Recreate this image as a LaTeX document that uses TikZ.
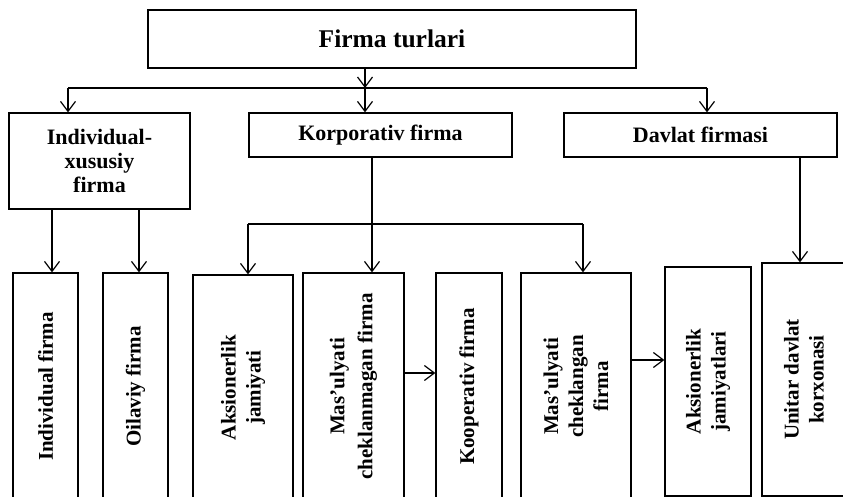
\documentclass[tikz,border=0pt]{standalone}
\usepackage{fontspec}
\setmainfont{Liberation Serif}
\usetikzlibrary{arrows.meta}
\tikzset{
  box/.style={draw, line width=1.2pt, inner sep=0pt, align=center,
    font=\bfseries\fontsize{22}{24}\selectfont},
  vbox/.style={box, rotate=90, font=\bfseries\fontsize{21}{25}\selectfont},
  ln/.style={line width=1.2pt},
  arr/.style={line width=1.2pt, -{Straight Barb[length=10pt,width=15pt,line width=1.2pt]}}
}
\begin{document}
\begin{tikzpicture}[x=1pt,y=-1pt]
\useasboundingbox (0,0) rectangle (843,497);
%
\node[box, minimum width=488pt, minimum height=58pt,
  font=\bfseries\fontsize{25.5}{28}\selectfont] (turlar) at (392,39) {Firma turlari};
%
\node[box, minimum width=181pt, minimum height=96pt] (indiv) at (99.5,161) {Individual-\\xususiy\\firma};
\node[box, minimum width=263pt, minimum height=44pt] (korp) at (380.5,135) {Korporativ firma};
\node[box, minimum width=273pt, minimum height=44pt] (davlat) at (700.5,135) {Davlat firmasi};
%
\node[vbox, minimum width=227pt, minimum height=65pt] (indfirma) at (45.5,386.5) {Individual firma};
\node[vbox, minimum width=227pt, minimum height=65pt] (oila) at (135.5,386.5) {Oilaviy firma};
\node[vbox, minimum width=225pt, minimum height=100pt] (aksjam) at (243,387.5) {Aksionerlik\\jamiyati};
\node[vbox, minimum width=227pt, minimum height=101pt] (cheklanmagan) at (353.5,386.5) {Mas’ulyati\\[3pt]cheklanmagan firma};
\node[vbox, minimum width=227pt, minimum height=66pt] (koop) at (469,386.5) {Kooperativ firma};
\node[vbox, minimum width=227pt, minimum height=110pt] (cheklangan) at (576,386.5) {Mas’ulyati\\cheklangan\\firma};
\node[vbox, minimum width=229pt, minimum height=86pt] (aksjamlar) at (708,381.5) {Aksionerlik\\jamiyatlari};
\node[vbox, minimum width=233pt, minimum height=84pt] (unitar) at (804,379.5) {Unitar davlat\\korxonasi};
%
\coordinate (busL) at (68,88);
\coordinate (busM) at (365,88);
\coordinate (busR) at (707,88);
\coordinate (kL) at (248,224);
\coordinate (kM) at (372,224);
\coordinate (kR) at (583,224);
\coordinate (iL) at (52,0);
\coordinate (iR) at (139,0);
\coordinate (dv) at (800,0);
\coordinate (h1) at (0,373);
\coordinate (h2) at (0,360);
%
\draw[arr] (turlar.south -| busM) -- (busM);
\draw[ln] (busL) -- (busR);
\draw[arr] (busL) -- (indiv.north -| busL);
\draw[arr] (busM) -- (korp.north -| busM);
\draw[arr] (busR) -- (davlat.north -| busR);
%
\draw[arr] (indiv.south -| iL) -- (indfirma.east -| iL);
\draw[arr] (indiv.south -| iR) -- (oila.east -| iR);
%
\draw[arr] (korp.south -| kM) -- (cheklanmagan.east -| kM);
\draw[ln] (kL) -- (kR);
\draw[arr] (kL) -- (aksjam.east -| kL);
\draw[arr] (kR) -- (cheklangan.east -| kR);
\draw[arr] (cheklanmagan.south |- h1) -- (koop.north |- h1);
\draw[arr] (cheklangan.south |- h2) -- (aksjamlar.north |- h2);
%
\draw[arr] (davlat.south -| dv) -- (unitar.east -| dv);
\end{tikzpicture}
\end{document}
